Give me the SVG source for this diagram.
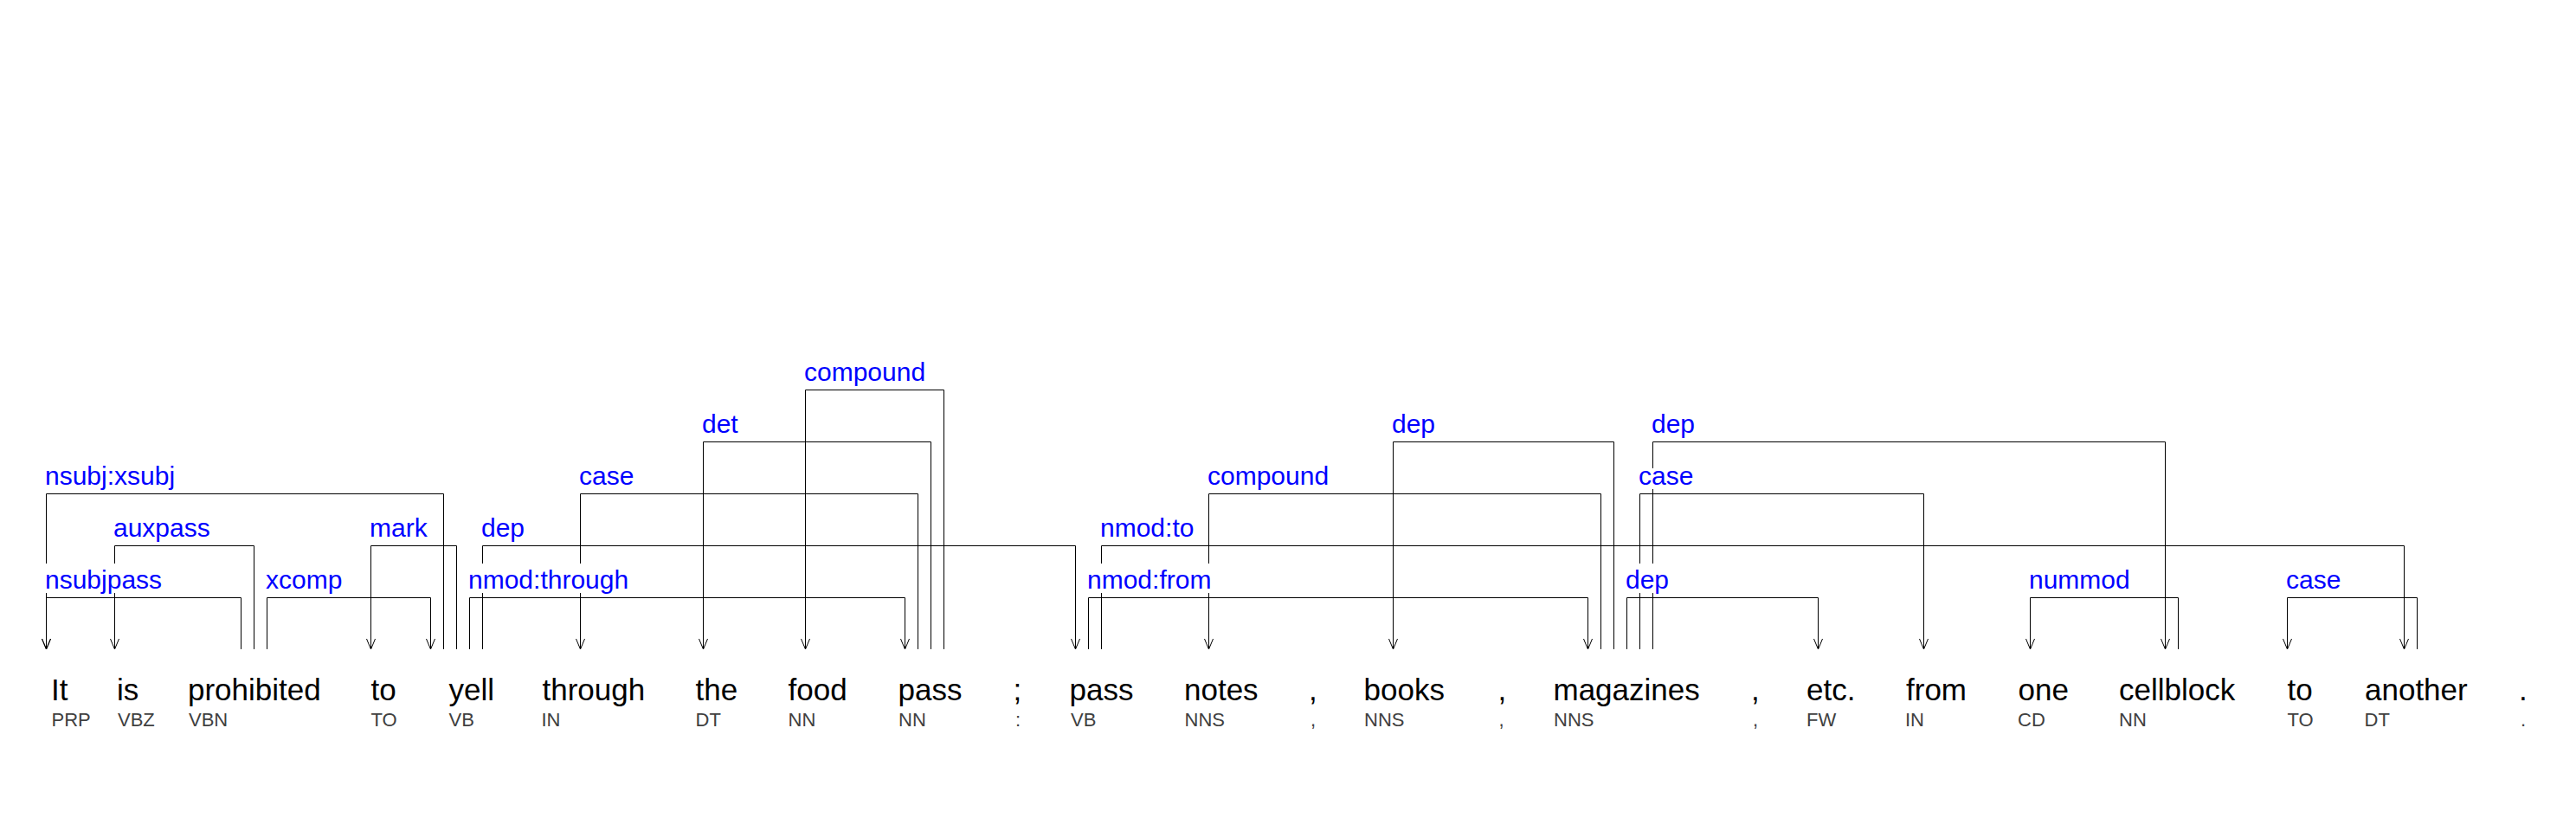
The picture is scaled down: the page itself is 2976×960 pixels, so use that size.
<svg xmlns="http://www.w3.org/2000/svg" width="2976" height="960" viewBox="0 0 2976 960">
<style>
.word{font-family:"Liberation Sans",Arial,sans-serif;font-size:35px;fill:#000}
.pos{font-family:"Liberation Sans",Arial,sans-serif;font-size:22px;fill:#404040}
.lbl{font-family:"Liberation Sans",Arial,sans-serif;font-size:30px;fill:#0000ff}
.edge{fill:none;stroke:#000;stroke-width:1;marker-end:url(#arr)}
.bg{fill:#fff}
</style>
<defs>
<marker id="arr" markerUnits="userSpaceOnUse" markerWidth="14" markerHeight="12" refX="13" refY="6" orient="auto" viewBox="0 0 14 12">
<path d="M1,1 L13,6 L1,11" fill="none" stroke="#000" stroke-width="1"/>
</marker>
</defs>
<rect width="2976" height="960" fill="#fff"/>
<g id="connectors">
<path class="edge" d="M512.5,750 V570.5 H53.5 V750"/>
<path class="edge" d="M278.5,750 V690.5 H53.5 V750"/>
<path class="edge" d="M293.5,750 V630.5 H132.5 V750"/>
<path class="edge" d="M308.5,750 V690.5 H497.5 V750"/>
<path class="edge" d="M527.5,750 V630.5 H428.5 V750"/>
<path class="edge" d="M542.5,750 V690.5 H1045.5 V750"/>
<path class="edge" d="M557.5,750 V630.5 H1242.5 V750"/>
<path class="edge" d="M1060.5,750 V570.5 H670.5 V750"/>
<path class="edge" d="M1075.5,750 V510.5 H812.5 V750"/>
<path class="edge" d="M1090.5,750 V450.5 H930.5 V750"/>
<path class="edge" d="M1257.5,750 V690.5 H1834.5 V750"/>
<path class="edge" d="M1272.5,750 V630.5 H2777.5 V750"/>
<path class="edge" d="M1849.5,750 V570.5 H1396.5 V750"/>
<path class="edge" d="M1864.5,750 V510.5 H1609.5 V750"/>
<path class="edge" d="M1879.5,750 V690.5 H2100.5 V750"/>
<path class="edge" d="M1894.5,750 V570.5 H2222.5 V750"/>
<path class="edge" d="M1909.5,750 V510.5 H2501.5 V750"/>
<path class="edge" d="M2516.5,750 V690.5 H2345.5 V750"/>
<path class="edge" d="M2792.5,750 V690.5 H2642.5 V750"/>
</g>
<g id="edge-labels">
<rect class="bg" x="53" y="531" width="150" height="34"/><text class="lbl" x="52" y="560">nsubj:xsubj</text>
<rect class="bg" x="53" y="651" width="136" height="34"/><text class="lbl" x="52" y="680">nsubjpass</text>
<rect class="bg" x="132" y="591" width="112" height="34"/><text class="lbl" x="131" y="620">auxpass</text>
<rect class="bg" x="308" y="661" width="88" height="24"/><text class="lbl" x="307" y="680">xcomp</text>
<rect class="bg" x="428" y="591" width="67" height="34"/><text class="lbl" x="427" y="620">mark</text>
<rect class="bg" x="542" y="651" width="185" height="34"/><text class="lbl" x="541" y="680">nmod:through</text>
<rect class="bg" x="557" y="591" width="50" height="34"/><text class="lbl" x="556" y="620">dep</text>
<rect class="bg" x="670" y="541" width="63" height="24"/><text class="lbl" x="669" y="560">case</text>
<rect class="bg" x="812" y="471" width="42" height="34"/><text class="lbl" x="811" y="500">det</text>
<rect class="bg" x="930" y="411" width="140" height="34"/><text class="lbl" x="929" y="440">compound</text>
<rect class="bg" x="1257" y="651" width="143" height="34"/><text class="lbl" x="1256" y="680">nmod:from</text>
<rect class="bg" x="1272" y="591" width="108" height="34"/><text class="lbl" x="1271" y="620">nmod:to</text>
<rect class="bg" x="1396" y="531" width="140" height="34"/><text class="lbl" x="1395" y="560">compound</text>
<rect class="bg" x="1609" y="471" width="50" height="34"/><text class="lbl" x="1608" y="500">dep</text>
<rect class="bg" x="1879" y="651" width="50" height="34"/><text class="lbl" x="1878" y="680">dep</text>
<rect class="bg" x="1894" y="541" width="63" height="24"/><text class="lbl" x="1893" y="560">case</text>
<rect class="bg" x="1909" y="471" width="50" height="34"/><text class="lbl" x="1908" y="500">dep</text>
<rect class="bg" x="2345" y="651" width="117" height="34"/><text class="lbl" x="2344" y="680">nummod</text>
<rect class="bg" x="2642" y="661" width="63" height="24"/><text class="lbl" x="2641" y="680">case</text>
</g>
<g id="t1"><text class="word" x="59" y="809">It</text><text class="pos" x="59.5" y="839">PRP</text></g>
<g id="t2"><text class="word" x="135" y="809">is</text><text class="pos" x="136" y="839">VBZ</text></g>
<g id="t3"><text class="word" x="217" y="809">prohibited</text><text class="pos" x="218" y="839">VBN</text></g>
<g id="t4"><text class="word" x="428.5" y="809">to</text><text class="pos" x="428.5" y="839">TO</text></g>
<g id="t5"><text class="word" x="518.5" y="809">yell</text><text class="pos" x="518.5" y="839">VB</text></g>
<g id="t6"><text class="word" x="626.5" y="809">through</text><text class="pos" x="625.5" y="839">IN</text></g>
<g id="t7"><text class="word" x="803.5" y="809">the</text><text class="pos" x="803.5" y="839">DT</text></g>
<g id="t8"><text class="word" x="910.5" y="809">food</text><text class="pos" x="910.5" y="839">NN</text></g>
<g id="t9"><text class="word" x="1037.5" y="809">pass</text><text class="pos" x="1038" y="839">NN</text></g>
<g id="t10"><text class="word" x="1170.5" y="809">;</text><text class="pos" x="1173" y="839">:</text></g>
<g id="t11"><text class="word" x="1235.5" y="809">pass</text><text class="pos" x="1237" y="839">VB</text></g>
<g id="t12"><text class="word" x="1368" y="809">notes</text><text class="pos" x="1368.5" y="839">NNS</text></g>
<g id="t13"><text class="word" x="1512" y="809">,</text><text class="pos" x="1514" y="839">,</text></g>
<g id="t14"><text class="word" x="1575.5" y="809">books</text><text class="pos" x="1576" y="839">NNS</text></g>
<g id="t15"><text class="word" x="1730.5" y="809">,</text><text class="pos" x="1731.5" y="839">,</text></g>
<g id="t16"><text class="word" x="1794.5" y="809">magazines</text><text class="pos" x="1795" y="839">NNS</text></g>
<g id="t17"><text class="word" x="2023" y="809">,</text><text class="pos" x="2025" y="839">,</text></g>
<g id="t18"><text class="word" x="2087" y="809">etc.</text><text class="pos" x="2087" y="839">FW</text></g>
<g id="t19"><text class="word" x="2202" y="809">from</text><text class="pos" x="2201" y="839">IN</text></g>
<g id="t20"><text class="word" x="2331.5" y="809">one</text><text class="pos" x="2331" y="839">CD</text></g>
<g id="t21"><text class="word" x="2448" y="809">cellblock</text><text class="pos" x="2448" y="839">NN</text></g>
<g id="t22"><text class="word" x="2642.5" y="809">to</text><text class="pos" x="2642.5" y="839">TO</text></g>
<g id="t23"><text class="word" x="2732" y="809">another</text><text class="pos" x="2731.5" y="839">DT</text></g>
<g id="t24"><text class="word" x="2910" y="809">.</text><text class="pos" x="2912" y="839">.</text></g>
</svg>
